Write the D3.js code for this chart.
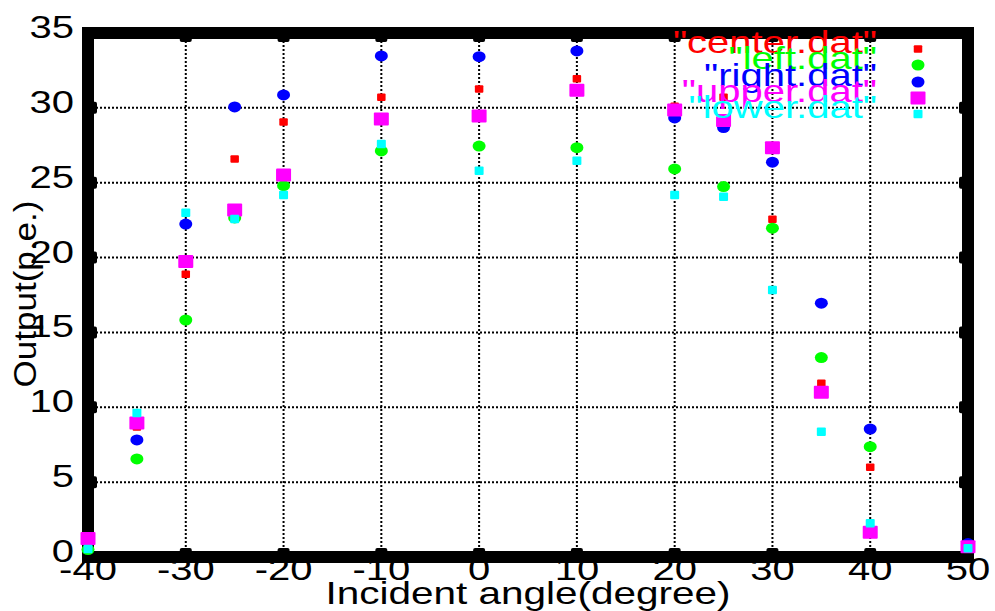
<!DOCTYPE html>
<html>
<head>
<meta charset="utf-8">
<script src="https://cdn.jsdelivr.net/npm/d3@7"></script>
<style>
  html, body { margin: 0; padding: 0; background: #fff; }
  svg { display: block; }
  text { font-family: "Liberation Sans", Arial, sans-serif; font-size: 32px; }
</style>
</head>
<body>
<svg id="chart" width="995" height="611"></svg>
<script>
// Incident angle (degree) of each measurement
const angles = [-40, -35, -30, -25, -20, -10, 0, 10, 20, 25, 30, 35, 40, 50];

// Output (p.e.) per data file
const centerVals = [0.55, 8.68, 18.88, 26.59, 29.06, 30.71, 31.26, 31.95, 30.1, 30.71, 22.56, 11.6, 6.0, 0.6];
const leftVals   = [0.5, 6.55, 15.83, 22.65, 24.8, 27.12, 27.45, 27.34, 25.92, 24.74, 21.96, 13.32, 7.37, 0.69];
const rightVals  = [1.24, 7.82, 22.24, 30.06, 30.86, 33.47, 33.42, 33.8, 29.33, 28.68, 26.37, 16.95, 8.55, 0.9];
const upperVals  = [1.24, 8.95, 19.73, 23.18, 25.52, 29.26, 29.46, 31.18, 29.86, 29.15, 27.34, 11.0, 1.65, 0.69];
const lowerVals  = [0.53, 9.62, 23.0, 22.58, 24.18, 27.59, 25.8, 26.47, 24.18, 24.07, 17.84, 8.37, 2.25, 0.58];

const seriesNames = ['"center.dat"', '"left.dat"', '"right.dat"', '"upper.dat"', '"lower.dat"'];

// Axis ticks
const xTicks = [-40, -30, -20, -10, 0, 10, 20, 30, 40, 50];
const yTicks = [0, 5, 10, 15, 20, 25, 30, 35];

const series = [
  { name: seriesNames[0], values: centerVals, color: "#ff0000", shape: "square", w: 8.5, h: 7.5 },
  { name: seriesNames[1], values: leftVals,   color: "#00ff00", shape: "circle", w: 13, h: 11 },
  { name: seriesNames[2], values: rightVals,  color: "#0000ff", shape: "circle", w: 13, h: 11 },
  { name: seriesNames[3], values: upperVals,  color: "#ff00ff", shape: "square", w: 15, h: 13 },
  { name: seriesNames[4], values: lowerVals,  color: "#00ffff", shape: "square", w: 9, h: 8.5 }
];

const svg = d3.select("#chart");
const x = d3.scaleLinear().domain([-40, 50]).range([88, 968]);
const y = d3.scaleLinear().domain([0, 35]).range([557, 33]);
const SX = 1.25; // horizontal text stretch

// dotted grid
const grid = svg.append("g")
  .attr("stroke", "#000").attr("stroke-width", 2).attr("stroke-dasharray", "2,2");
grid.selectAll("line.v").data(xTicks.slice(1, -1)).join("line")
  .attr("class", "v")
  .attr("x1", d => x(d)).attr("x2", d => x(d))
  .attr("y1", y(35)).attr("y2", y(0));
grid.selectAll("line.h").data(yTicks.slice(1, -1)).join("line")
  .attr("class", "h")
  .attr("x1", x(-40)).attr("x2", x(50))
  .attr("y1", d => y(d)).attr("y2", d => y(d));

// heavy frame
svg.append("rect")
  .attr("x", x(-40)).attr("y", y(35))
  .attr("width", x(50) - x(-40)).attr("height", y(0) - y(35))
  .attr("fill", "none").attr("stroke", "#000").attr("stroke-width", 12);

// inward tick stubs
const ticks = svg.append("g").attr("fill", "#000");
xTicks.slice(1, -1).forEach(t => {
  ticks.append("rect").attr("x", x(t) - 6).attr("y", y(35)).attr("width", 12).attr("height", 9).attr("rx", 2);
  ticks.append("rect").attr("x", x(t) - 6).attr("y", y(0) - 9).attr("width", 12).attr("height", 9).attr("rx", 2);
});
yTicks.slice(1, -1).forEach(t => {
  ticks.append("rect").attr("x", x(-40)).attr("y", y(t) - 6).attr("width", 9).attr("height", 12).attr("rx", 2);
  ticks.append("rect").attr("x", x(50) - 9).attr("y", y(t) - 6).attr("width", 9).attr("height", 12).attr("rx", 2);
});

// tick labels
svg.append("g").selectAll("text").data(yTicks).join("text")
  .attr("transform", d => `translate(74,${y(d) + 5}) scale(${SX},1)`)
  .attr("text-anchor", "end").attr("fill", "#000")
  .text(d => d);
svg.append("g").selectAll("text").data(xTicks).join("text")
  .attr("transform", d => `translate(${x(d)},580) scale(${SX},1)`)
  .attr("text-anchor", "middle").attr("fill", "#000")
  .text(d => d);

// axis titles
svg.append("text")
  .attr("transform", `translate(528,604) scale(1.265,1)`)
  .attr("text-anchor", "middle").attr("fill", "#000")
  .text("Incident angle(degree)");
svg.append("text")
  .attr("transform", `translate(36,294) rotate(-90) scale(1.095,1)`)
  .attr("text-anchor", "middle").attr("fill", "#000")
  .text("Output(p.e.)");

function drawMarker(g, cx, cy, s) {
  if (s.shape === "circle") {
    g.append("ellipse").attr("cx", cx).attr("cy", cy).attr("rx", s.w / 2).attr("ry", s.h / 2)
      .attr("fill", s.color);
  } else {
    g.append("rect").attr("x", cx - s.w / 2).attr("y", cy - s.h / 2)
      .attr("width", s.w).attr("height", s.h).attr("rx", 1).attr("fill", s.color);
  }
}

// key entry then points, one data file at a time
const keyBase = [53, 69, 86, 102, 118];
series.forEach((s, i) => {
  const g = svg.append("g");
  g.append("text")
    .attr("transform", `translate(877,${keyBase[i]}) scale(${SX},1)`)
    .attr("text-anchor", "end").attr("fill", s.color)
    .text(s.name);
  drawMarker(g, 918, keyBase[i] - 4, s);
  angles.forEach((a, j) => drawMarker(g, x(a), y(s.values[j]), s));
});
</script>
</body>
</html>
